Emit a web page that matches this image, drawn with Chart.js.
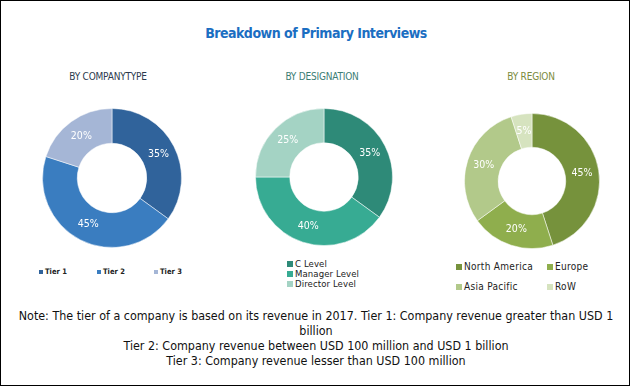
<!DOCTYPE html>
<html lang="en">
<head>
    <meta charset="UTF-8">
    <style>
        * { box-sizing: border-box; margin: 0; padding: 0; }
        body { width: 630px; height: 386px; background: #fff; overflow: hidden; }
        .frame {
            position: relative;
            width: 630px;
            height: 386px;
            border: 1px solid #000;
            font-family: "DejaVu Sans Condensed", "Liberation Sans", sans-serif;
        }
        .title {
            position: absolute; left: 0; top: 24px; width: 630px;
            text-align: center; font-size: 14px; font-weight: bold; color: #1b6ec2;
            letter-spacing: -0.5px;
        }
        .sub {
            position: absolute; top: 70px; width: 200px; text-align: center;
            font-size: 10px; letter-spacing: -0.2px;
        }
        canvas { position: absolute; }
        .legend { position: absolute; color: #222; }
        .legend .item { position: absolute; white-space: nowrap; line-height: 10px; }
        .legend .sw { display: inline-block; margin-right: 2px; vertical-align: 0; }
        .note {
            position: absolute; left: 0; top: 307px; width: 630px; text-align: center;
            font-size: 12.4px; line-height: 15px; color: #111;
        }
    </style>
</head>
<body>
<div class="frame">
    <div class="title">Breakdown of Primary Interviews</div>

    <div class="sub" style="left:7px;color:#2c3a4e;">BY COMPANYTYPE</div>
    <div class="sub" style="left:221px;color:#3b7d74;">BY DESIGNATION</div>
    <div class="sub" style="left:430px;color:#7b8b3c;">BY REGION</div>

    <canvas id="companyChart" width="140" height="140" style="left:41px;top:107px;"></canvas>
    <canvas id="designationChart" width="138" height="138" style="left:254px;top:107px;"></canvas>
    <canvas id="regionChart" width="136" height="136" style="left:463px;top:112px;"></canvas>

    <div class="legend" id="companyLegend"></div>
    <div class="legend" id="designationLegend"></div>
    <div class="legend" id="regionLegend"></div>

    <div class="note">
        Note: The tier of a company is based on its revenue in 2017. Tier 1: Company revenue greater than USD 1<br>
        billion<br>
        Tier 2: Company revenue between USD 100 million and USD 1 billion<br>
        Tier 3: Company revenue lesser than USD 100 million
    </div>
</div>

<script src="https://cdn.jsdelivr.net/npm/chart.js@4/dist/chart.umd.min.js"></script>
<script>
    // data
    const companyLabels = ['Tier 1', 'Tier 2', 'Tier 3'];
    const companyValues = [35, 45, 20];
    const companyColors = ['#30639b', '#3a7dc0', '#a5b6d6'];

    const designationLabels = ['C Level', 'Manager Level', 'Director Level'];
    const designationValues = [35, 40, 25];
    const designationColors = ['#2e8a78', '#37ab93', '#a4d3c4'];

    const regionLabels = ['North America', 'Europe', 'Asia Pacific', 'RoW'];
    const regionValues = [45, 20, 30, 5];
    const regionColors = ['#76923c', '#8fae4d', '#b2c98a', '#d6e3bf'];

    // draws the % text in the middle of each slice
    const pctLabels = {
        id: 'pctLabels',
        afterDatasetsDraw(chart) {
            const ctx = chart.ctx;
            const meta = chart.getDatasetMeta(0);
            const values = chart.data.datasets[0].data;
            ctx.save();
            ctx.fillStyle = '#fff';
            ctx.font = '10.5px "DejaVu Sans Condensed", sans-serif';
            ctx.textAlign = 'center';
            ctx.textBaseline = 'middle';
            meta.data.forEach((arc, i) => {
                const p = arc.tooltipPosition();
                ctx.fillText(values[i] + '%', p.x, p.y);
            });
            ctx.restore();
        }
    };

    function makeDonut(id, labels, values, colors) {
        return new Chart(document.getElementById(id), {
            type: 'doughnut',
            data: {
                labels: labels,
                datasets: [{
                    data: values,
                    backgroundColor: colors,
                    borderColor: 'rgba(255,255,255,0.5)',
                    borderWidth: 1
                }]
            },
            options: {
                responsive: false,
                animation: false,
                cutout: '50%',
                events: [],
                layout: { padding: 0 },
                plugins: {
                    legend: { display: false },
                    tooltip: { enabled: false }
                }
            },
            plugins: [pctLabels]
        });
    }

    makeDonut('companyChart', companyLabels, companyValues, companyColors);
    makeDonut('designationChart', designationLabels, designationValues, designationColors);
    makeDonut('regionChart', regionLabels, regionValues, regionColors);

    // html legends built from the same arrays
    function buildLegend(id, labels, colors, spots, fontSize, sw, extra) {
        const box = document.getElementById(id);
        labels.forEach((lab, i) => {
            const it = document.createElement('div');
            it.className = 'item';
            it.style.left = spots[i][0] + 'px';
            it.style.top = spots[i][1] + 'px';
            it.style.fontSize = fontSize + 'px';
            Object.assign(it.style, extra || {});
            it.innerHTML = '<span class="sw" style="background:' + colors[i] + ';width:' + sw + 'px;height:' + sw + 'px"></span>' + lab;
            box.appendChild(it);
        });
    }

    buildLegend('companyLegend', companyLabels, companyColors, [[38, 266], [96, 266], [153, 266]], 7.5, 4, { fontWeight: 'bold' });
    buildLegend('designationLegend', designationLabels, designationColors, [[286, 258], [286, 268], [286, 278]], 9.5, 6, { letterSpacing: '0.1px' });
    buildLegend('regionLegend', regionLabels, regionColors, [[455, 261], [546, 261], [455, 281], [546, 281]], 10, 6, { letterSpacing: '0.3px' });
</script>
</body>
</html>
